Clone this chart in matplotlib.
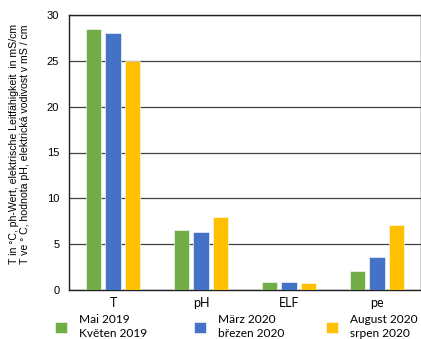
import matplotlib
matplotlib.use('Agg')
import matplotlib.pyplot as plt
import numpy as np

# Data
categories = ['T', 'pH', 'ELF', 'pe']
series_labels = ['Mai 2019\nKvěten 2019', 'März 2020\nbřezen 2020', 'August 2020\nsrpen 2020']
mai_2019 = [28.5, 6.5, 0.83, 2.1]
maerz_2020 = [28.0, 6.3, 0.83, 3.6]
august_2020 = [25.0, 8.0, 0.76, 7.1]
colors = ['#70AD47', '#4472C4', '#FFC000']

ylabel = ('T in °C, ph-Wert, elektrische Leitfähigkeit  in mS/cm\n'
          'T ve ° C, hodnota pH, elektrická vodivost v mS / cm')

fig = plt.figure(figsize=(4.21, 3.39), dpi=100)
ax = fig.add_axes([69 / 421, 49 / 339, 352 / 421, 275 / 339])

x = np.arange(len(categories))
width = 0.18
offsets = [-0.222, 0.0, 0.222]
handles = []
for vals, off, col, lab in zip([mai_2019, maerz_2020, august_2020], offsets, colors, series_labels):
    b = ax.bar(x + off, vals, width, color=col, edgecolor='white', linewidth=0.4,
               label=lab, zorder=3)
    handles.append(b)

ax.set_xlim(-0.5, len(categories) - 0.5)
ax.set_ylim(0, 30)
ax.set_yticks(range(0, 31, 5))
ax.yaxis.grid(True, color='#404040', linewidth=0.9, zorder=0)
ax.set_axisbelow(True)
ax.tick_params(axis='both', length=0)
ax.tick_params(axis='y', labelsize=8, pad=7)
ax.tick_params(axis='x', labelsize=9, pad=5)
for t in ax.get_yticklabels():
    t.set_fontfamily('Liberation Sans')
ax.set_xticks(x)
ax.set_xticklabels(categories, fontfamily='Lato')
for s in ax.spines.values():
    s.set_color('#202020')
    s.set_linewidth(1.0)

ax.set_ylabel(ylabel, fontsize=7.6, fontfamily='Liberation Sans', linespacing=1.05)
ax.yaxis.set_label_coords(-0.112, 0.53)

# one legend per series so each entry sits where the reference has it
legend_x = [50, 189, 321]
for h, lab, lx in zip(handles, series_labels, legend_x):
    leg = fig.legend(handles=[h], labels=[lab], loc='lower left',
                     bbox_to_anchor=(lx / 421, -0.015), frameon=False,
                     prop={'family': 'Lato', 'size': 8.6}, handlelength=1.05,
                     handleheight=1.05, handletextpad=1.0, borderaxespad=0.0)
    for t in leg.get_texts():
        t.set_linespacing(1.35)

fig.savefig('out.png', dpi=100)
